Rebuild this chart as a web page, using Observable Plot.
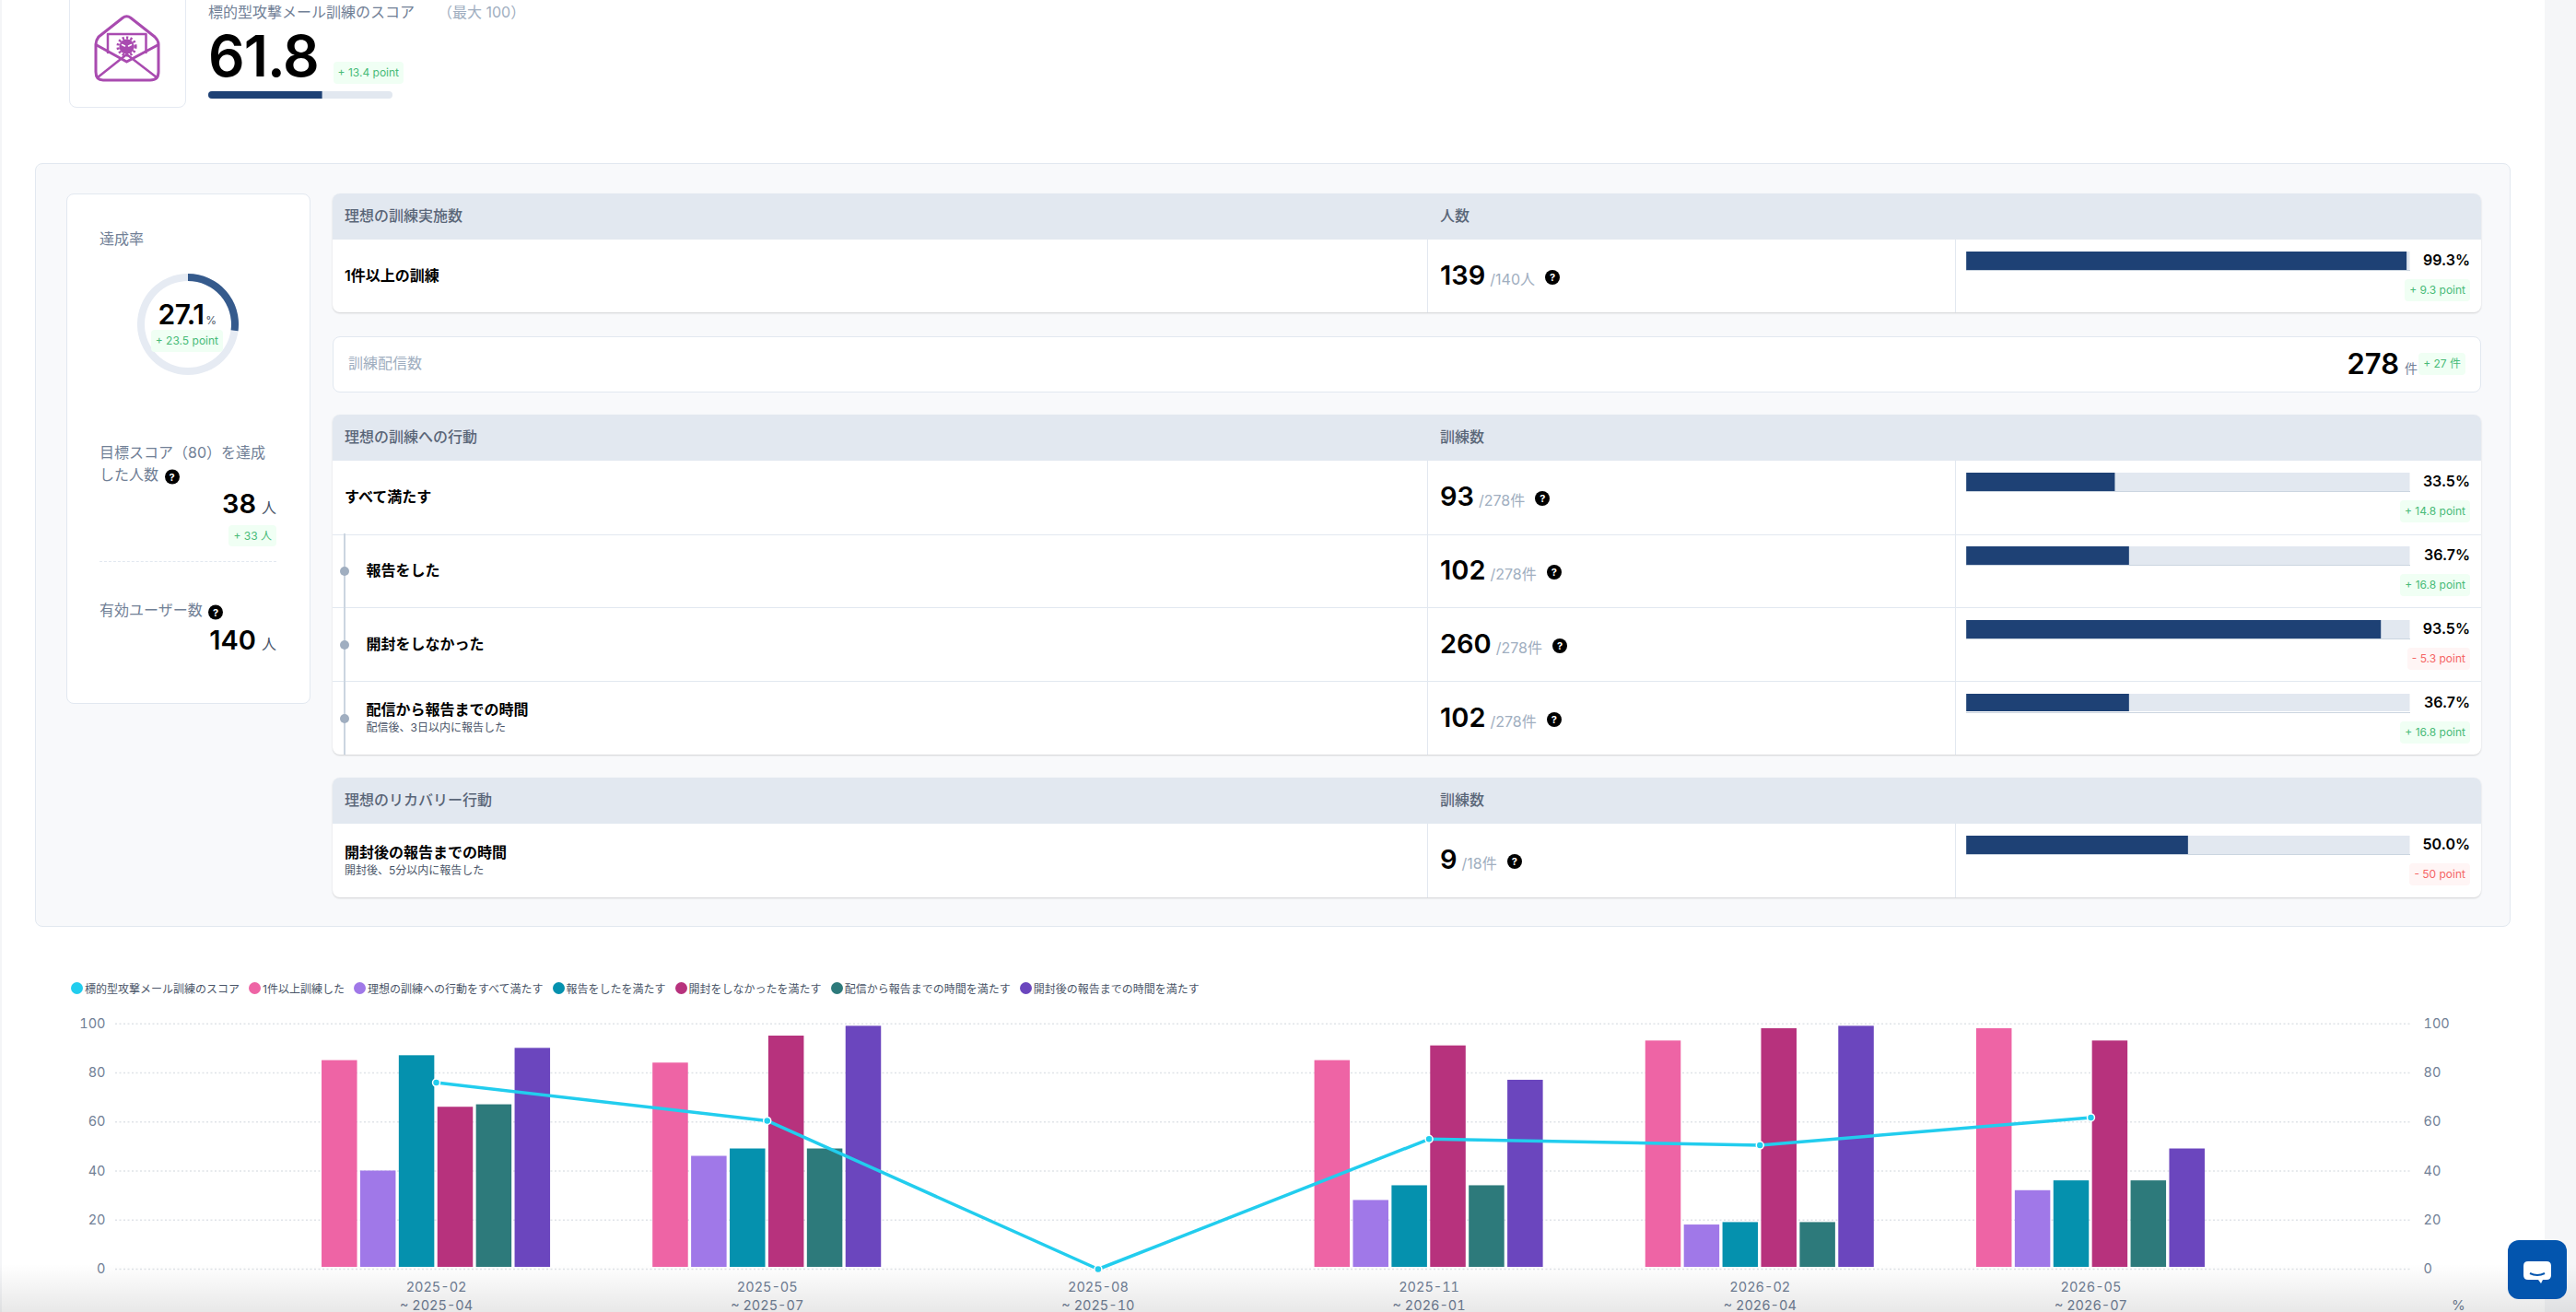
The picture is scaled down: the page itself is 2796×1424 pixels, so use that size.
<!DOCTYPE html>
<html lang="ja">
<head>
<meta charset="utf-8">
<script src="https://cdn.jsdelivr.net/npm/d3@7"></script>
<script src="https://cdn.jsdelivr.net/npm/@observablehq/plot@0.6"></script>
<style>
html,body{margin:0;padding:0;background:#fff;width:2796px;height:1424px;overflow:hidden}
body{font-family:Inter,"Noto Sans CJK JP",sans-serif;position:relative;color:#000}
.a{position:absolute;white-space:nowrap}
.box{position:absolute;box-sizing:border-box}
.mid{transform:translateY(calc(-50% - 1.5px))}
.badge{position:absolute;box-sizing:border-box;height:24px;line-height:24px;padding:0 5px;border-radius:4px;font-size:12px;white-space:nowrap}
.up{background:#f0fff4;color:#48bb78}
.down{background:#fff5f5;color:#f56565}
.help{display:inline-block;width:16px;height:16px;line-height:16px;border-radius:50%;background:#000;color:#fff;text-align:center;font-size:11px;font-weight:700;vertical-align:4px}
.tbl{position:absolute;left:361px;width:2332px;background:#fff;border-radius:8px;box-shadow:0 1px 2px rgba(0,0,0,.16)}
.thead{position:absolute;left:0;top:0;right:0;background:#e2e8f0;border-radius:8px 8px 0 0}
svg{background:transparent}
</style>
</head>
<body>
<script>
// ---------- chart data ----------
const periodStart = ["2025-02","2025-05","2025-08","2025-11","2026-02","2026-05"];
const periodEnd   = ["2025-04","2025-07","2025-10","2026-01","2026-04","2026-07"];
const lineName  = "標的型攻撃メール訓練のスコア";
const lineColor = "#22cdee";
const scoreLine = [76, 60.5, 0, 53, 50.5, 61.8];
const barNames  = ["1件以上訓練した","理想の訓練への行動をすべて満たす","報告をしたを満たす","開封をしなかったを満たす","配信から報告までの時間を満たす","開封後の報告までの時間を満たす"];
const barColors = ["#ee64a5","#a078e8","#0591ae","#b7327d","#2d7a7b","#6b46be"];
const oneOrMore = [85, 84, 0, 85, 93, 98];
const allMet    = [40, 46, 0, 28, 18, 32];
const reported  = [87, 49, 0, 34, 19, 36];
const notOpened = [66, 95, 0, 91, 98, 93];
const reportTime= [67, 49, 0, 34, 19, 36];
const recovery  = [90, 99, 0, 77, 99, 49];
const barSeries = [oneOrMore, allMet, reported, notOpened, reportTime, recovery];

// ---------- dashboard data ----------
const scoreValue = 61.8, scoreDelta = "+ 13.4 point";
const achieveRate = 27.1, achieveDelta = "+ 23.5 point";
const rowCounts = [139, 93, 102, 260, 102, 9];
const rowTotals = ["/140人","/278件","/278件","/278件","/278件","/18件"];
const rowPct    = [99.3, 33.5, 36.7, 93.5, 36.7, 50.0];
const rowDelta  = ["+ 9.3 point","+ 14.8 point","+ 16.8 point","- 5.3 point","+ 16.8 point","- 50 point"];
const rowTitles = ["1件以上の訓練","すべて満たす","報告をした","開封をしなかった","配信から報告までの時間","開封後の報告までの時間"];
const rowSubs   = ["","","","","配信後、3日以内に報告した","開封後、5分以内に報告した"];
const rowTops   = [260, 500, 580, 660, 739.5, 894];
const rowIndent = [false,false,true,true,true,false];

const B = document.body;
function box(x,y,w,h,css){const d=document.createElement("div");d.className="box";d.style.cssText=`left:${x}px;top:${y}px;width:${w}px;height:${h}px;${css||""}`;B.appendChild(d);return d}
function txt(x,y,s,css){const d=document.createElement("div");d.className="a mid";d.style.cssText=`left:${x}px;top:${y}px;${css||""}`;d.innerHTML=s;B.appendChild(d);return d}
function txtR(r,y,s,css){const d=document.createElement("div");d.className="a mid";d.style.cssText=`right:${2796-r}px;top:${y}px;${css||""}`;d.innerHTML=s;B.appendChild(d);return d}
function badge(r,top,s,dir,h){const d=document.createElement("div");d.className="badge "+dir;d.style.cssText=`right:${2796-r}px;top:${top}px;`+(h?`height:${h}px;line-height:${h}px;`:"");d.textContent=s;B.appendChild(d);return d}
function progress(x,y,w,h,v,css){
  const p=Plot.plot({width:w,height:h,margin:0,x:{domain:[0,100],axis:null},y:{axis:null},
    marks:[Plot.barX([100],{x:d=>d,fill:"#e2e8f0"}),Plot.barX([v],{x:d=>d,fill:"#1e4175"})]});
  const c=box(x,y,w,h,"overflow:hidden;"+(css||""));c.appendChild(p);return c;
}

// page side strips
box(0,0,2,1424,"background:#f4f5f7");
box(2762,0,34,1424,"background:#f5f6f8");

// header
box(74.5,-30,127,147,"background:#fff;border:1px solid #e5eaf2;border-radius:8px");
const icon=document.createElement("div");
icon.className="box";icon.style.cssText="left:100px;top:14px;width:76px;height:78px";
icon.innerHTML=`<svg width="76" height="78" viewBox="100 14 76 78" fill="none" stroke="#a94bb0" stroke-width="3" stroke-linejoin="round" stroke-linecap="round">
<path d="M133 19.5 Q137.5 16 142 19.5 L168 40 Q172 44 172 48 L172 78 Q172 87 163 87 L112 87 Q104 87 104 78 L104 48 Q104 44 107 40 Z"/>
<path d="M105 49 L137.5 67 L171 49"/><path d="M106 84 L137.5 59 L170 84" stroke-width="2.5"/>
<path d="M117 57 L117 37 L158.5 37 L158.5 57" stroke-width="2.5"/>
<circle cx="137.5" cy="50.5" r="8" fill="#a94bb0" stroke="none"/>
<circle cx="137.5" cy="50.5" r="9.5" stroke-width="3.2" stroke-linecap="butt" stroke-dasharray="2.2 2.2"/>
<path d="M132.5 48.5 L135.5 50 M142.5 48.5 L139.5 50" stroke="#fff" stroke-width="1.6"/></svg>`;
B.appendChild(icon);
txt(226,12.5,lineName,"font-size:16px;color:#718096");
txt(475,12.5,"（最大 100）","font-size:16px;color:#a0aec0");
txt(226,62,String(scoreValue),"font-size:62px;font-weight:600;letter-spacing:-1px");
badge(438,67,scoreDelta,"up");
progress(226,99,200,8,scoreValue,"border-radius:4px");

// panel
box(38,177,2687,829,"background:#f8f9fb;border:1px solid #e2e8f0;border-radius:8px");
box(71.5,210,265,554,"background:#fff;border:1px solid #e2e8f0;border-radius:8px");
txt(108,259,"達成率","font-size:16px;color:#718096");

// donut
const donutHost=box(149,297,110,110);
donutHost.appendChild(Plot.plot({width:110,height:110,margin:0,x:{axis:null},y:{axis:null},marks:[
  ()=>{const g=d3.create("svg:g").attr("transform","translate(55,55)");
    const arc=d3.arc().innerRadius(47).outerRadius(55);
    g.append("path").attr("d",arc({startAngle:0,endAngle:2*Math.PI})).attr("fill","#e6ebf3");
    g.append("path").attr("d",arc({startAngle:0,endAngle:2*Math.PI*achieveRate/100})).attr("fill","#355a8c");
    return g.node();}
]}));
txt(171.5,342,`${achieveRate}<span style="font-size:12px;font-weight:400;color:#4a5568;margin-left:2px">%</span>`,"font-size:30px;font-weight:600;letter-spacing:-.5px");
badge(242,358,achieveDelta,"up");

txt(108,491,"目標スコア（80）を達成","font-size:16px;color:#718096");
txt(108,515,`した人数 <span class="help" style="vertical-align:-1px;margin-left:2px">?</span>`,"font-size:16px;color:#718096");
txtR(300,548,`38<span style="font-size:16px;font-weight:400;color:#4a5568;margin-left:6px">人</span>`,"font-size:29px;font-weight:600");
badge(300,570,"+ 33 人","up",23);
box(108,609,192,1,"border-top:1px dashed #e2e8f0");
txt(108,662,`有効ユーザー数 <span class="help" style="vertical-align:-1px;margin-left:2px">?</span>`,"font-size:16px;color:#718096");
txtR(300,696,`140<span style="font-size:16px;font-weight:400;color:#4a5568;margin-left:6px">人</span>`,"font-size:29px;font-weight:600");

// tables
function table(top,h,head1,head2){
  const t=document.createElement("div");t.className="tbl";t.style.cssText=`top:${top}px;height:${h}px`;
  t.innerHTML=`<div class="thead" style="height:50px"></div>`;B.appendChild(t);
  txt(374,top+24,head1,"font-size:16px;font-weight:500;color:#5a6678");
  txt(1563,top+24,head2,"font-size:16px;font-weight:500;color:#5a6678");
  box(1549,top+50,1,h-50,"background:#e2e8f0");
  box(2121.5,top+50,1,h-50,"background:#e2e8f0");
}
table(210,129,"理想の訓練実施数","人数");
table(450,369,"理想の訓練への行動","訓練数");
table(844,129.5,"理想のリカバリー行動","訓練数");
[579.5,659,739].forEach(y=>box(361,y,2332,1.4,"background:#e2e8f0"));

// delivery count box
box(361,364.5,2332,61,"background:#fff;border:1px solid #e2e8f0;border-radius:8px");
txt(378,393.5,"訓練配信数","font-size:16px;color:#a0aec0");
txtR(2604,396,"278","font-size:31px;font-weight:600");
txt(2610,400,"件","font-size:14px;color:#718096");
badge(2676,383,"+ 27 件","up");

// tree
box(372.5,579,2,240,"background:#cbd5e0");
[620,700,780].forEach(y=>box(368.5,y-5,10,10,"background:#a0aec0;border-radius:50%"));

rowTops.forEach((top,i)=>{
  const x=rowIndent[i]?397.5:374, c=top+40;
  if(rowSubs[i]){
    txt(x,c-9.5,rowTitles[i],"font-size:16px;font-weight:600");
    txt(x,c+10.5,rowSubs[i],"font-size:12px;color:#4a5568");
  } else txt(x,c-1,rowTitles[i],"font-size:16px;font-weight:600");
  txt(1563,c,`<span style="font-size:29px;font-weight:600">${rowCounts[i]}</span><span style="font-size:16px;color:#a0aec0;margin-left:5px">${rowTotals[i]}</span><span class="help" style="margin-left:11px">?</span>`);
  progress(2134,top+13,481.7,20,rowPct[i],"box-shadow:0 1px 0 #cbd5e0");
  txtR(2681,top+23,rowPct[i].toFixed(1)+"%","font-size:16px;font-weight:600");
  badge(2681,top+43,rowDelta[i],rowDelta[i][0]==="+"?"up":"down");
});

// legend
const legendItems=[[lineName,lineColor],...barNames.map((n,i)=>[n,barColors[i]])];
const legend=document.createElement("div");
legend.className="a mid";legend.style.cssText="left:77px;top:1073.5px;display:flex;gap:10px;font-size:12px;color:#4a5568";
legend.innerHTML=legendItems.map(([n,c])=>`<span style="display:flex;align-items:center;gap:2px"><i style="display:block;width:13px;height:13px;border-radius:50%;background:${c}"></i>${n}</span>`).join("");
B.appendChild(legend);

// main chart
const step=0.7/6;
const bars=barSeries.flatMap((vals,j)=>vals.map((v,i)=>({i,j,v,x1:i+(j-3)*step,x2:i+(j-2)*step})));
const line=scoreLine.map((v,i)=>({i,v}));
const chart=Plot.plot({
  width:2640,height:334,marginLeft:65,marginRight:83,marginTop:20.7,marginBottom:47,
  style:{fontFamily:'Inter,"Noto Sans CJK JP",sans-serif',fontSize:"14.5px",color:"#718096",background:"transparent"},
  x:{domain:[-0.969,5.969]},
  y:{domain:[0,100]},
  marks:[
    Plot.ruleY([0,20,40,60,80,100],{stroke:"#dfe3e8",strokeWidth:1.5,strokeDasharray:"2,2.5"}),
    Plot.rectY(bars.filter(d=>d.v===0),{x1:"x1",x2:"x2",y1:0,y2:"v",stroke:"#fff",strokeWidth:4}),
    Plot.rectY(bars.filter(d=>d.v>0),{x1:"x1",x2:"x2",y1:0,y2:"v",fill:d=>barColors[d.j],insetLeft:1.7,insetRight:1.7,insetBottom:2}),
    Plot.axisY({anchor:"left",ticks:[0,20,40,60,80,100],tickSize:0,tickPadding:11,label:null}),
    Plot.axisY({anchor:"right",ticks:[0,20,40,60,80,100],tickSize:0,tickPadding:13,label:null}),
    Plot.axisX({anchor:"bottom",ticks:periodStart.map((_,i)=>i),tickSize:0,tickPadding:10,label:null,lineHeight:1.4,
      tickFormat:i=>periodStart[i]+"\n~ "+periodEnd[i]}),
    Plot.line(line,{x:"i",y:"v",stroke:lineColor,strokeWidth:3.5}),
    Plot.dot(line,{x:"i",y:"v",r:4,fill:lineColor,stroke:"#fff",strokeWidth:1.5})
  ]
});
const host=box(60,1090,2640,334);host.appendChild(chart);
txt(2661,1418,"%","font-size:15px;color:#718096");

// bottom fade and chat button
box(0,1372,2796,52,"background:linear-gradient(to bottom,rgba(0,0,0,0),rgba(0,0,0,.09));pointer-events:none");
const chat=box(2722,1346,64,64,"background:#0355ae;border-radius:12px");
chat.innerHTML=`<svg width="64" height="64" viewBox="0 0 64 64"><path d="M22 23 H42 Q47 23 47 28 V38 Q47 43 42 43 H38 L36 47 L33 43 H22 Q17 43 17 38 V28 Q17 23 22 23 Z" fill="#fff"/><path d="M24 36 Q32 40 40 36" stroke="#0355ae" stroke-width="2" fill="none"/></svg>`;
</script>
</body>
</html>
